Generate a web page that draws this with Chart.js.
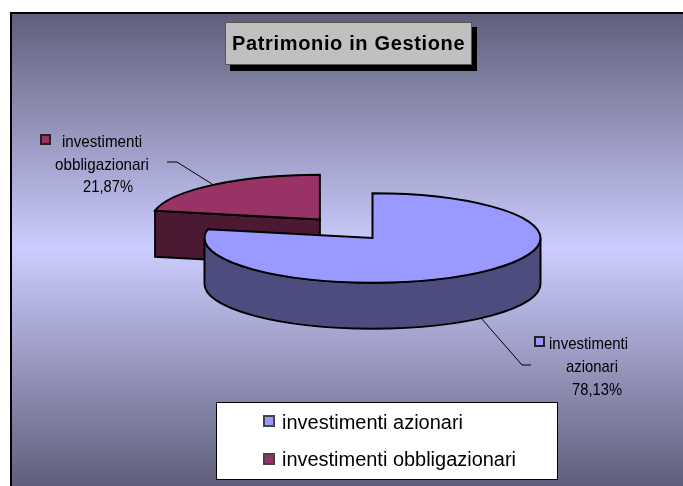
<!DOCTYPE html>
<html>
<head>
<meta charset="utf-8">
<style>html,body{margin:0;padding:0;background:#fff}canvas{display:block}</style>
<script src="https://cdn.jsdelivr.net/npm/chart.js@4/dist/chart.umd.js"></script>
</head>
<body>
<canvas id="c" width="683" height="486" style="width:683px;height:486px"></canvas>
<script>
const chartTitle = 'Patrimonio in Gestione';
const categories = ['investimenti azionari', 'investimenti obbligazionari'];
const values = [78.13, 21.87];
const valueLabels = ['78,13%', '21,87%'];
const topColors = ['#9999ff', '#993366'];
const wallColors = ['#4c4c7f', '#4c1933'];

const squash = 0.266, depth = 46, lift = 1.5;
const sans = '"Liberation Sans", Arial, sans-serif';
let pivot = { x: 0, y: 0 };

function pt(a) {
  // apex of a slice after the library's explode offset and the tilt
  const h = (a.startAngle + a.endAngle) / 2, o = (a.options.offset || 0) / 4;
  return {
    x: a.x + Math.cos(h) * o,
    y: pivot.y + (a.y + Math.sin(h) * o - pivot.y) * squash
  };
}
function rim(a, angle) {
  const c = pt(a);
  return { x: c.x + Math.cos(angle) * a.outerRadius, y: c.y + Math.sin(angle) * a.outerRadius * squash };
}
function ellipsePath(ctx, a, from, to, dy, ccw) {
  const c = pt(a);
  ctx.ellipse(c.x, c.y + dy, a.outerRadius, a.outerRadius * squash, 0, from, to, ccw);
}
function finish(ctx, fill) {
  ctx.closePath();
  if (fill) { ctx.fillStyle = fill; ctx.fill(); }
  ctx.strokeStyle = '#000'; ctx.lineWidth = 2; ctx.lineJoin = 'miter'; ctx.stroke();
}
function swatch(ctx, x, y, s, color, edge) {
  ctx.fillStyle = color; ctx.strokeStyle = edge; ctx.lineWidth = 2;
  ctx.fillRect(x, y, s, s); ctx.strokeRect(x, y, s, s);
}
function lines(ctx, rows) {
  rows.forEach(r => ctx.fillText(r[0], r[1], r[2], r[3]));
}

const frame = {
  id: 'frame',
  beforeDraw(chart) {
    const ctx = chart.ctx, w = chart.width, h = chart.height;
    ctx.save();
    ctx.fillStyle = '#fff'; ctx.fillRect(0, 0, w, h);
    const g = ctx.createLinearGradient(0, 13, 0, 486);
    g.addColorStop(0, '#5f5f7b');
    g.addColorStop(0.5, '#ccccff');
    g.addColorStop(1, '#5f5f7b');
    ctx.fillStyle = g; ctx.fillRect(10, 12, w - 10, h - 12);
    ctx.fillStyle = '#000';
    ctx.fillRect(10, 12, w - 10, 2); ctx.fillRect(10, 12, 2, h - 12);
    ctx.restore();
  }
};

const pie3d = {
  id: 'pie3d',
  afterDatasetsUpdate(chart) {
    const arcs = chart.getDatasetMeta(0).data;
    pivot = { x: arcs[0].x, y: arcs[0].y };
    arcs[1].y -= lift / squash;
  },
  beforeDatasetsDraw(chart) {
    const ctx = chart.ctx, arcs = chart.getDatasetMeta(0).data;
    const [blue, red] = arcs;
    ctx.save();
    // cut face of the second slice
    const p0 = rim(red, red.startAngle), p1 = pt(red);
    ctx.beginPath();
    ctx.moveTo(p0.x, p0.y); ctx.lineTo(p1.x, p1.y);
    ctx.lineTo(p1.x, p1.y + depth); ctx.lineTo(p0.x, p0.y + depth);
    finish(ctx, wallColors[1]);
    // outer wall of the first slice
    ctx.beginPath();
    ellipsePath(ctx, blue, 0, Math.PI, 0, false);
    ellipsePath(ctx, blue, Math.PI, 0, depth, true);
    finish(ctx, wallColors[0]);
    ctx.restore();
    // the library then draws the slice tops through this tilt
    ctx.save();
    ctx.translate(pivot.x, pivot.y); ctx.scale(1, squash); ctx.translate(-pivot.x, -pivot.y);
  },
  afterDatasetsDraw(chart) {
    const ctx = chart.ctx, arcs = chart.getDatasetMeta(0).data;
    ctx.restore();
    ctx.save();
    arcs.forEach(a => {
      const c = pt(a);
      ctx.beginPath();
      ctx.moveTo(c.x, c.y);
      ellipsePath(ctx, a, a.startAngle, a.endAngle, 0, false);
      finish(ctx, null);
    });
    ctx.restore();
  }
};

const annotate = {
  id: 'annotate',
  afterDraw(chart) {
    const ctx = chart.ctx;
    ctx.save();
    // leader lines
    ctx.strokeStyle = '#000'; ctx.lineWidth = 1;
    ctx.beginPath(); ctx.moveTo(167, 162); ctx.lineTo(177, 162); ctx.lineTo(212, 184); ctx.stroke();
    ctx.beginPath(); ctx.moveTo(481, 318); ctx.lineTo(522, 365); ctx.lineTo(531, 365); ctx.stroke();

    // data labels
    ctx.fillStyle = '#000'; ctx.textBaseline = 'alphabetic'; ctx.textAlign = 'left';
    ctx.font = '17px ' + sans;
    const [az1, az2] = categories[0].split(' ');
    const [ob1, ob2] = categories[1].split(' ');
    lines(ctx, [
      [ob1, 62, 147, 80], [ob2, 55, 170, 94], [valueLabels[1], 83, 192, 50],
      [az1, 549, 349, 79], [az2, 566, 372, 52], [valueLabels[0], 572, 395, 50]
    ]);
    swatch(ctx, 41, 135, 9, topColors[1], '#222');
    swatch(ctx, 535, 337, 9, topColors[0], '#222');

    // title box
    ctx.fillStyle = '#000'; ctx.fillRect(230, 27, 247, 44);
    ctx.fillStyle = '#c0c0c0'; ctx.fillRect(226, 22, 245, 43);
    ctx.strokeStyle = '#555'; ctx.lineWidth = 1; ctx.strokeRect(225.5, 22.5, 246, 42);
    ctx.fillStyle = '#000'; ctx.font = 'bold 20px ' + sans;
    ctx.letterSpacing = '0.65px';
    ctx.fillText(chartTitle, 232, 50);
    ctx.letterSpacing = '0px';

    // legend box
    ctx.fillStyle = '#fff'; ctx.fillRect(217, 403, 340, 76);
    ctx.strokeStyle = '#000'; ctx.lineWidth = 1; ctx.strokeRect(216.5, 402.5, 341, 77);
    swatch(ctx, 264, 416, 10, topColors[0], '#444');
    swatch(ctx, 264, 454, 10, topColors[1], '#444');
    ctx.fillStyle = '#000'; ctx.font = '20px ' + sans;
    ctx.fillText(categories[0], 282, 429, 181);
    ctx.fillText(categories[1], 282, 466, 234);
    ctx.restore();
  }
};

new Chart(document.getElementById('c'), {
  type: 'pie',
  data: {
    labels: categories,
    datasets: [{
      data: values,
      backgroundColor: topColors,
      borderWidth: 0,
      offset: [0, 332],
      radius: 168,
      clip: false
    }]
  },
  options: {
    responsive: false,
    animation: false,
    layout: { padding: { left: 62, bottom: 10 } },
    plugins: { legend: { display: false }, title: { display: false }, tooltip: { enabled: false } }
  },
  plugins: [frame, pie3d, annotate]
});
</script>
</body>
</html>
